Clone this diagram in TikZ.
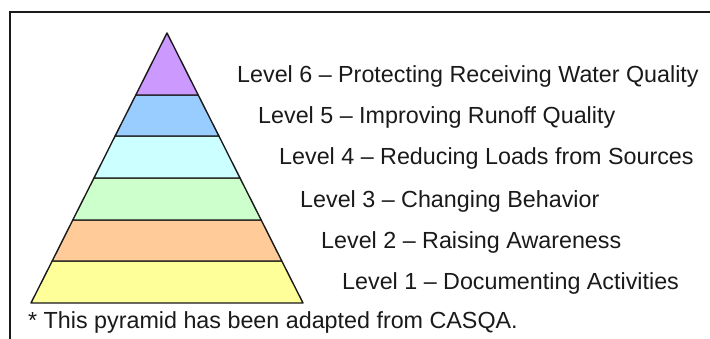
\documentclass[tikz,border=0pt]{standalone}
\usepackage{fontspec}
\setmainfont{Liberation Sans}
\definecolor{lvsix}{HTML}{CC99FF}
\definecolor{lvfive}{HTML}{99CCFF}
\definecolor{lvfour}{HTML}{CCFFFF}
\definecolor{lvthree}{HTML}{CCFFCC}
\definecolor{lvtwo}{HTML}{FFCC99}
\definecolor{lvone}{HTML}{FFFF99}
\definecolor{inkc}{HTML}{1A1A1A}
\begin{document}
\begin{tikzpicture}[x=1pt,y=-1pt,
  layer/.style={draw=inkc,line width=1.4pt,line join=round},
  lbl/.style={anchor=base west,inner sep=0pt,text=inkc,font=\fontsize{23.3}{27}\selectfont},
  frame/.style={draw=inkc,line width=2pt}]
\useasboundingbox (0,0) rectangle (710,339);
\fill[white] (0,0) rectangle (710,339);
\draw[frame] (9.5,339) -- (9.5,12.5) -- (710,12.5);
% pyramid layers
\filldraw[layer,fill=lvone]   (31,303) -- (303,303) -- (281.8,261) -- (52.2,261) -- cycle;
\filldraw[layer,fill=lvtwo]   (52.2,261) -- (281.8,261) -- (261.2,220) -- (72.8,220) -- cycle;
\filldraw[layer,fill=lvthree] (72.8,220) -- (261.2,220) -- (240,178) -- (94,178) -- cycle;
\filldraw[layer,fill=lvfour]  (94,178) -- (240,178) -- (218.9,136) -- (115.1,136) -- cycle;
\filldraw[layer,fill=lvfive]  (115.1,136) -- (218.9,136) -- (198.2,95) -- (135.8,95) -- cycle;
\filldraw[layer,fill=lvsix]   (135.8,95) -- (198.2,95) -- (167,33) -- cycle;
% labels
\node[lbl] (l6) at (237,83)  {Level 6 – Protecting Receiving Water Quality};
\node[lbl] (l5) at (258,124) {Level 5 – Improving Runoff Quality};
\node[lbl] (l4) at (279,165) {Level 4 – Reducing Loads from Sources};
\node[lbl] (l3) at (300,208) {Level 3 – Changing Behavior};
\node[lbl] (l2) at (321,249) {Level 2 – Raising Awareness};
\node[lbl] (l1) at (342,290) {Level 1 – Documenting Activities};
\node[lbl] (foot) at (28,328) {* This pyramid has been adapted from CASQA.};
\end{tikzpicture}
\end{document}
